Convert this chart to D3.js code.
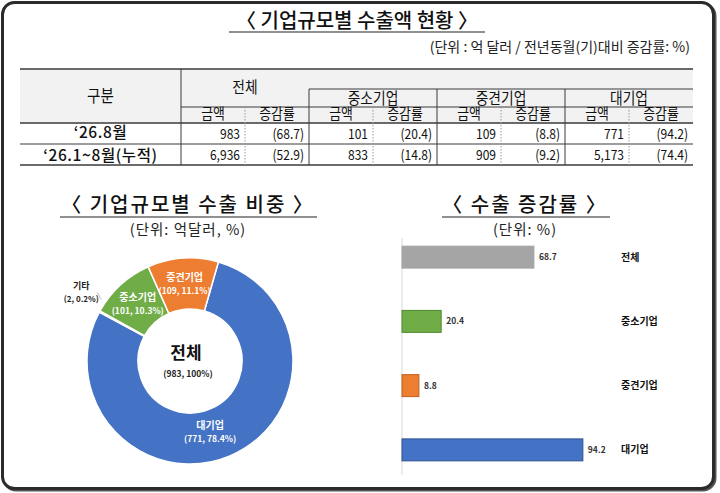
<!DOCTYPE html>
<html>
<head>
<meta charset="utf-8">
<script src="https://cdn.jsdelivr.net/npm/d3@7"></script>
<style>
  body { margin: 0; background: #fff; }
  svg { display: block; font-family: "Noto Sans CJK KR", "Noto Sans", sans-serif; }
</style>
</head>
<body>
<svg id="chart" width="720" height="493"></svg>
<script>
// table data
const tableGroups = ['전체', '중소기업', '중견기업', '대기업'];
const subCols = ['금액', '증감률'];
const rowLabels = ['‘26.8월', '‘26.1~8월(누적)'];
const amountMonth = [983, 101, 109, 771];
const rateMonth = [68.7, 20.4, 8.8, 94.2];
const amountCum = [6936, 833, 909, 5173];
const rateCum = [52.9, 14.8, 9.2, 74.4];

// donut data
const shareNames = ['대기업', '기타', '중소기업', '중견기업'];
const shareValues = [771, 2, 101, 109];
const sharePct = [78.4, 0.2, 10.3, 11.1];

// bar data
const barNames = ['전체', '중소기업', '중견기업', '대기업'];
const barValues = [68.7, 20.4, 8.8, 94.2];

const colors = { '전체': '#a5a5a5', '기타': '#a5a5a5', '중소기업': '#70ad47', '중견기업': '#ed7d31', '대기업': '#4472c4' };
const strokes = { '전체': '#a5a5a5', '중소기업': '#4e8a2e', '중견기업': '#c0601e', '대기업': '#2f528f' };

const svg = d3.select('#chart');

// frame
svg.append('rect').attr('x', 4).attr('y', 4).attr('width', 711).attr('height', 486)
    .attr('rx', 12).attr('fill', 'none').attr('stroke', '#555').attr('stroke-width', 3);
svg.append('rect').attr('x', 2.5).attr('y', 2.5).attr('width', 711).attr('height', 486)
    .attr('rx', 12).attr('fill', '#fff').attr('stroke', '#2b2b2b').attr('stroke-width', 3);

// ---- top table ----
const title = (x, y, str, size, spacing, ulFrom, ulTo, ulY) => {
    svg.append('text').attr('x', x).attr('y', y).attr('text-anchor', 'middle')
        .attr('font-size', size).attr('font-weight', 500).attr('letter-spacing', spacing)
        .attr('fill', '#111').text(str);
    svg.append('line').attr('x1', ulFrom).attr('x2', ulTo).attr('y1', ulY).attr('y2', ulY)
        .attr('stroke', '#222').attr('stroke-width', 1.2);
};
title(357, 28, '〈 기업규모별 수출액 현황 〉', 20, 0, 229, 485, 32);

svg.append('text').attr('x', 690).attr('y', 52).attr('text-anchor', 'end')
    .attr('font-size', 14).attr('fill', '#222')
    .text('(단위 : 억 달러 / 전년동월(기)대비 증감률: %)');

const tLeft = 20, tRight = 693, colSplit = 181;
const groupX = d3.scaleBand().domain(tableGroups).range([colSplit, tRight]);
const subX = d3.scaleBand().domain(subCols).range([0, groupX.bandwidth()]);
const rowY = d3.scaleBand().domain(rowLabels).range([123, 165]);

const table = svg.append('g');
table.append('rect').attr('x', tLeft).attr('y', 69).attr('width', tRight - tLeft).attr('height', 54).attr('fill', '#f2f2f2');

const hline = (x1, x2, y, w) => table.append('line').attr('x1', x1).attr('x2', x2).attr('y1', y).attr('y2', y)
    .attr('stroke', '#3a3a3a').attr('stroke-width', w);
const vline = (x, y1, y2, dashed) => table.append('line').attr('x1', x).attr('x2', x).attr('y1', y1).attr('y2', y2)
    .attr('stroke', dashed ? '#999' : '#3a3a3a').attr('stroke-width', 1)
    .attr('stroke-dasharray', dashed ? '1.5,1.5' : null);

hline(tLeft, tRight, 69, 1.6);
hline(groupX(tableGroups[1]), tRight, 89, 1);
hline(colSplit, tRight, 107, 1);
hline(tLeft, tRight, 123, 1.4);
hline(tLeft, tRight, rowY(rowLabels[1]), 1);
hline(tLeft, tRight, 165, 1.6);
vline(colSplit, 69, 165, false);
tableGroups.forEach((g, i) => {
    if (i > 0) vline(groupX(g), 89, 165, false);
    vline(groupX(g) + subX('증감률'), 107, 165, true);
});

const ctext = (x, y, str, size, anchor, weight, sx) => table.append('text')
    .attr('transform', `translate(${x},${y}) scale(${sx || 0.86},1)`)
    .attr('dy', '0.36em').attr('text-anchor', anchor)
    .attr('font-size', size).attr('font-weight', weight || 400).attr('fill', '#111').text(str);

ctext((tLeft + colSplit) / 2, 96, '구분', 17, 'middle');
tableGroups.forEach((g, i) => {
    const gx = groupX(g);
    ctext(gx + groupX.bandwidth() / 2, i === 0 ? 87 : 98, g, 16, 'middle');
    subCols.forEach(s => ctext(gx + subX(s) + subX.bandwidth() / 2, 114, s, 15, 'middle'));
});

const fmtAmt = d3.format(',');
const fmtRate = v => `(${v.toFixed(1)})`;
const rows = [[amountMonth, rateMonth], [amountCum, rateCum]];
rowLabels.forEach((r, ri) => {
    const cy = rowY(r) + rowY.bandwidth() / 2;
    ctext((tLeft + colSplit) / 2, cy + (ri === 0 ? -1 : 1), r, 15.5, 'middle', 500, 1)
        .attr('letter-spacing', 0.6);
    tableGroups.forEach((g, gi) => {
        const gx = groupX(g);
        ctext(gx + subX('금액') + subX.bandwidth() - 5, cy + 0.5, fmtAmt(rows[ri][0][gi]), 14, 'end');
        ctext(gx + subX('증감률') + subX.bandwidth() - 5, cy + 0.5, fmtRate(rows[ri][1][gi]), 14, 'end');
    });
});

// ---- donut ----
title(188, 211.5, '〈 기업규모별 수출 비중 〉', 20, 2, 60, 317, 217);
svg.append('text').attr('x', 188).attr('y', 235).attr('text-anchor', 'middle')
    .attr('font-size', 14.5).attr('letter-spacing', 1).attr('fill', '#222').text('(단위: 억달러, %)');

const cx = 190, cy = 361, outerR = 103, innerR = 52;
const start = 16 * Math.PI / 180;
const pie = d3.pie().sort(null).value(d => d.value).startAngle(start).endAngle(start + 2 * Math.PI);
const arcs = pie(shareNames.map((n, i) => ({ name: n, value: shareValues[i], pct: sharePct[i] })));
const arc = d3.arc().innerRadius(innerR).outerRadius(outerR);

const donut = svg.append('g').attr('transform', `translate(${cx},${cy})`);
donut.selectAll('path').data(arcs).enter().append('path')
    .attr('d', arc).attr('fill', d => colors[d.data.name])
    .attr('stroke', '#fff').attr('stroke-width', 1.5);

const lbl = d3.format('.1f');
arcs.forEach(d => {
    if (d.data.name === '기타') {
        const mid = (d.startAngle + d.endAngle) / 2 + 6 * Math.PI / 180;
        const px = Math.sin(mid) * (outerR + 5), py = -Math.cos(mid) * (outerR + 5);
        donut.append('line').attr('x1', px).attr('y1', py).attr('x2', px - 4).attr('y2', py - 7)
            .attr('stroke', '#aaa').attr('stroke-width', 0.8);
        donut.append('text').attr('x', px - 20).attr('y', py - 10).attr('text-anchor', 'middle')
            .attr('font-size', 9).attr('font-weight', 700).attr('fill', '#222').text(d.data.name);
        donut.append('text').attr('x', px - 20).attr('y', py + 3).attr('text-anchor', 'middle')
            .attr('font-size', 8).attr('font-weight', 700).attr('fill', '#222')
            .text(`(${d.data.value}, ${lbl(d.data.pct)}%)`);
        return;
    }
    let [x, y] = arc.centroid(d);
    if (d.data.name === '대기업') x -= 10;
    donut.append('text').attr('x', x).attr('y', y - 3).attr('text-anchor', 'middle')
        .attr('font-size', 10).attr('font-weight', 700).attr('fill', '#fff').text(d.data.name);
    donut.append('text').attr('x', x).attr('y', y + 10).attr('text-anchor', 'middle')
        .attr('font-size', 8.5).attr('font-weight', 700).attr('fill', '#fff')
        .text(`(${d.data.value}, ${lbl(d.data.pct)}%)`);
});
donut.append('text').attr('x', -4).attr('y', -2).attr('text-anchor', 'middle')
    .attr('font-size', 17).attr('font-weight', 700).attr('fill', '#111').text('전체');
donut.append('text').attr('x', -2).attr('y', 16).attr('text-anchor', 'middle')
    .attr('font-size', 8.5).attr('font-weight', 700).attr('fill', '#222')
    .text(`(${d3.sum(shareValues)}, 100%)`);

// ---- bars ----
title(525, 211.5, '〈 수출 증감률 〉', 20, 2, 442, 610, 217);
svg.append('text').attr('x', 525).attr('y', 235).attr('text-anchor', 'middle')
    .attr('font-size', 14.5).attr('letter-spacing', 1).attr('fill', '#222').text('(단위: %)');

const xScale = d3.scaleLinear().domain([0, 100]).range([402, 594]);
const yScale = d3.scaleBand().domain(barNames).range([225, 482]).paddingInner(0.658).paddingOuter(0.329);

svg.append('line').attr('x1', xScale(0)).attr('x2', xScale(0)).attr('y1', 238).attr('y2', 475)
    .attr('stroke', '#d9d9d9').attr('stroke-width', 1);

svg.selectAll('.bar').data(barNames).enter().append('rect')
    .attr('class', 'bar')
    .attr('x', xScale(0))
    .attr('y', d => yScale(d))
    .attr('width', (d, i) => xScale(barValues[i]) - xScale(0))
    .attr('height', yScale.bandwidth())
    .attr('fill', d => colors[d])
    .attr('stroke', d => strokes[d]).attr('stroke-width', 1);

svg.selectAll('.bar-label').data(barNames).enter().append('text')
    .attr('class', 'bar-label')
    .attr('x', (d, i) => xScale(barValues[i]) + 5)
    .attr('y', d => yScale(d) + yScale.bandwidth() / 2)
    .attr('dy', '0.35em')
    .attr('font-size', 8.5).attr('font-weight', 700).attr('fill', '#333')
    .text((d, i) => barValues[i].toFixed(1));

svg.selectAll('.cat-label').data(barNames).enter().append('text')
    .attr('class', 'cat-label')
    .attr('x', 621)
    .attr('y', d => yScale(d) + yScale.bandwidth() / 2)
    .attr('dy', '0.35em')
    .attr('font-size', 10).attr('font-weight', 700).attr('fill', '#111')
    .text(d => d);
</script>
</body>
</html>
